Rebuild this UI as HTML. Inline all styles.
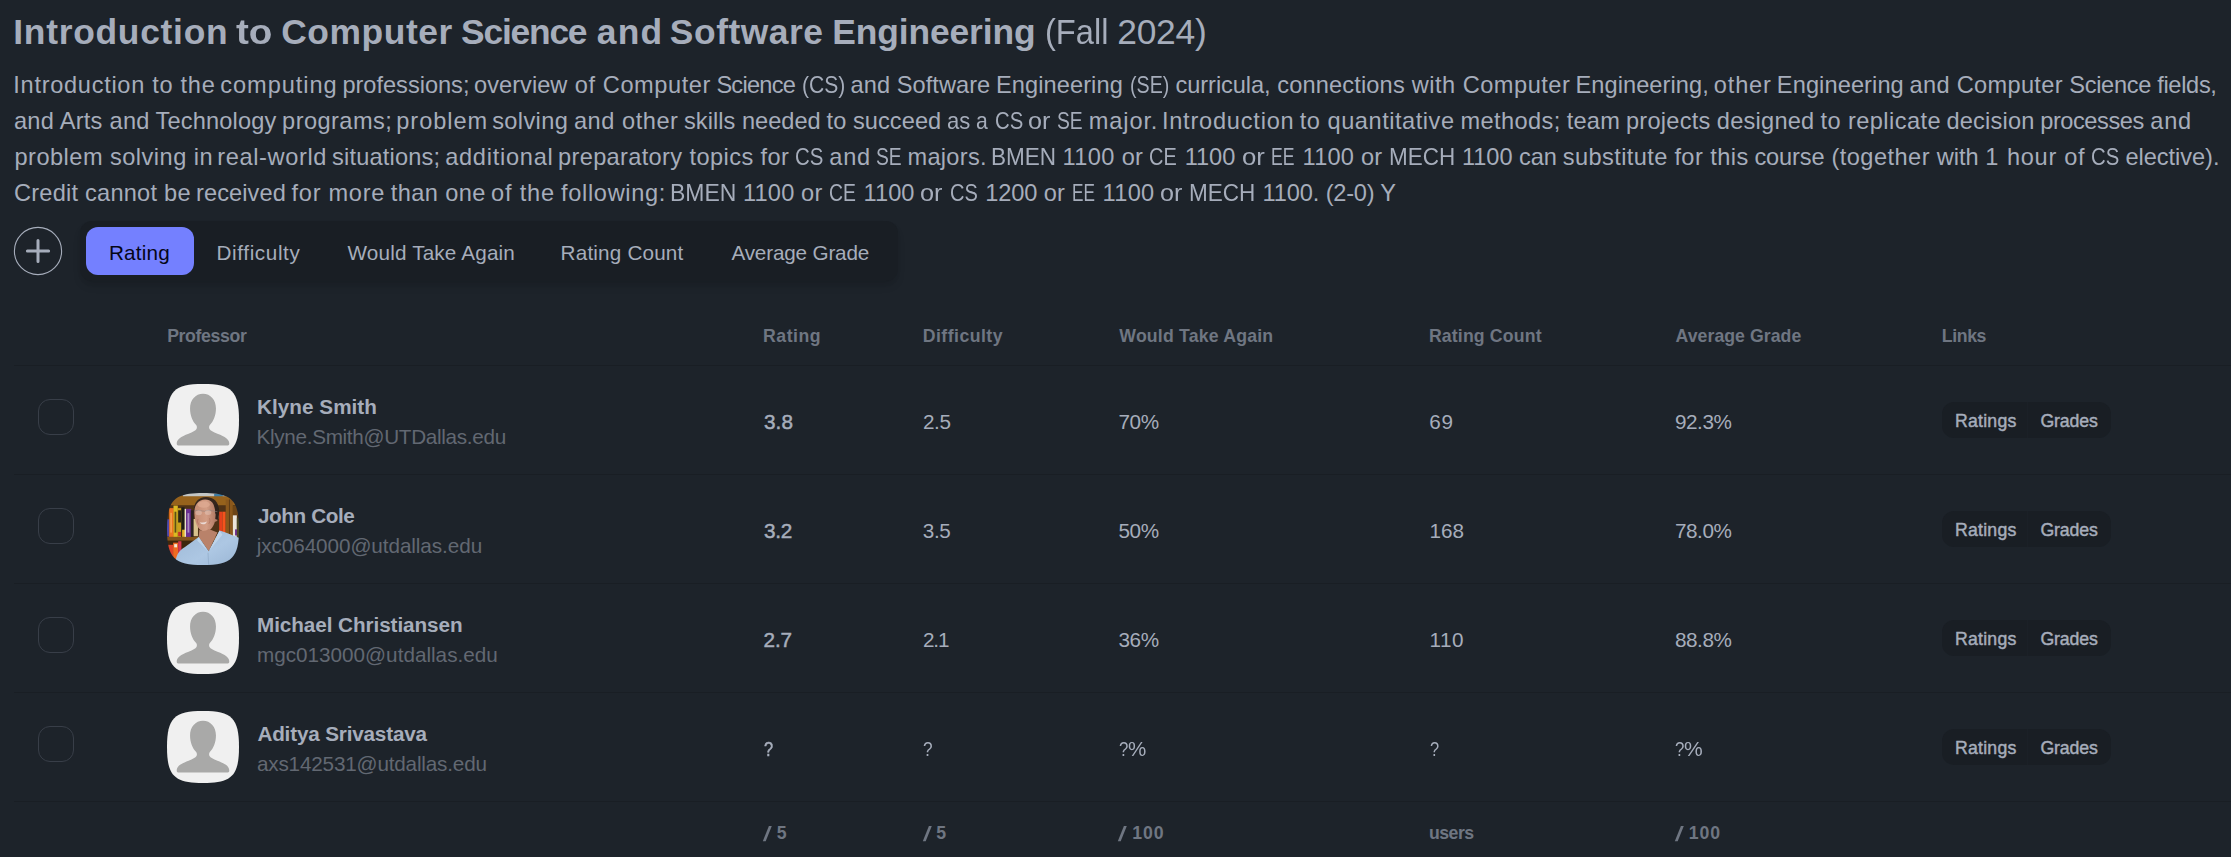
<!DOCTYPE html><html><head><meta charset="utf-8"><title>Course</title><style>

html,body{margin:0;padding:0;}
body{width:2231px;height:857px;overflow:hidden;background:#1d232a;position:relative;font-family:"Liberation Sans",sans-serif;color:#a6adbb;}
.t{position:absolute;white-space:pre;line-height:1;}
.abs{position:absolute;}
.ln{position:absolute;left:14px;width:2217px;height:1px;background:#191e24;}
.cb{position:absolute;left:38px;width:34px;height:34px;border:1px solid #383e48;border-radius:12px;}
.av{position:absolute;left:167px;width:72px;height:72px;}
.bg{position:absolute;left:1942px;width:169px;height:36px;border-radius:12px;background:#191e24;}
.bg i{position:absolute;left:84.5px;top:0;width:1px;height:36px;background:#1b2027;}

</style></head><body>
<svg class="abs" style="left:10px;top:223px" width="56" height="56" viewBox="0 0 56 56"><circle cx="28" cy="28" r="23.6" fill="none" stroke="#a6adbb" stroke-width="1.1"/><path d="M17.4 28H38.6M28 17.4V38.6" stroke="#a6adbb" stroke-width="3" stroke-linecap="round" fill="none"/></svg>
<div class="abs" style="left:80px;top:221px;width:818px;height:60px;border-radius:12px;background:#191e24;box-shadow:0 6px 9px -1.5px rgba(0,0,0,.1),0 3px 6px -3px rgba(0,0,0,.1);"></div>
<div class="abs" style="left:86px;top:227px;width:108px;height:48px;border-radius:12px;background:#7480ff;"></div>
<div class="ln" style="top:365px"></div>
<div class="ln" style="top:474px"></div>
<div class="ln" style="top:583px"></div>
<div class="ln" style="top:692px"></div>
<div class="ln" style="top:801px"></div>
<div class="cb" style="top:399px"></div>
<svg class="av" style="top:384px" viewBox="0 0 200 200"><defs><clipPath id="q0"><path d="M100 0C20 0 0 20 0 100s20 100 100 100 100-20 100-100S180 0 100 0Z"/></clipPath></defs><g clip-path="url(#q0)"><rect width="200" height="200" fill="#f0f0f0"/><path d="M100 27C79 27 64 44 64 68c0 19 7 36 17 46 2 2 3 7 1 11-3 5-10 8-22 13-22 8-33 16-33 27 0 4 2 6 6 6h134c4 0 6-2 6-6 0-11-11-19-33-27-12-5-19-8-22-13-2-4-1-9 1-11 10-10 17-27 17-46 0-24-15-41-36-41z" fill="#a9a9a8"/></g></svg>
<div class="bg" style="top:402px"><i></i></div>
<div class="cb" style="top:508px"></div>
<svg class="av" style="top:493px" viewBox="0 0 200 200"><defs><clipPath id="q1"><path d="M100 0C20 0 0 20 0 100s20 100 100 100 100-20 100-100S180 0 100 0Z"/></clipPath></defs><g clip-path="url(#q1)"><defs><linearGradient id="sk" x1="0" y1="0" x2="1" y2="0"><stop offset="0" stop-color="#c48b72"/><stop offset=".5" stop-color="#d39d85"/><stop offset="1" stop-color="#a8705a"/></linearGradient>
<linearGradient id="sh" x1="0" y1="0" x2="1" y2="1"><stop offset="0" stop-color="#9db8d6"/><stop offset=".55" stop-color="#adc7e3"/><stop offset="1" stop-color="#98b4d3"/></linearGradient>
<filter id="bl" x="-5%" y="-5%" width="110%" height="110%"><feGaussianBlur stdDeviation="1.1"/></filter></defs>
<g filter="url(#bl)">
<rect x="-10" y="-10" width="220" height="220" fill="#94601f"/>
<rect x="44" y="-4" width="132" height="15" fill="#c3c6c5"/>
<rect x="131" y="2" width="24" height="19" fill="#3c7ba3"/>
<rect x="155" y="8" width="18" height="12" fill="#aab2b6"/>
<rect x="-10" y="9" width="220" height="25" fill="#96621f"/>
<rect x="-10" y="34" width="220" height="89" fill="#4f3317"/>
<rect x="-4" y="73" width="12" height="48" fill="#4d47a8"/>
<rect x="6" y="42" width="13" height="80" fill="#ec7320"/>
<rect x="9" y="55" width="5" height="55" fill="#f3a04a"/>
<rect x="18" y="35" width="12" height="87" fill="#dcba20"/>
<rect x="21" y="52" width="5" height="58" fill="#5b4f16"/>
<rect x="30" y="42" width="10" height="80" fill="#c9a11f"/>
<rect x="31" y="48" width="8" height="34" fill="#2b2616"/>
<rect x="31" y="108" width="9" height="12" fill="#c8322a"/>
<rect x="40" y="40" width="9" height="82" fill="#1c1a18"/>
<rect x="42" y="102" width="8" height="20" fill="#e3b027"/>
<rect x="49" y="44" width="4" height="78" fill="#e9e2cb"/>
<rect x="53" y="44" width="14" height="80" fill="#6c2f93"/>
<rect x="57" y="56" width="5" height="54" fill="#a98cc2"/>
<rect x="66" y="48" width="8" height="74" fill="#2a2320"/>
<rect x="74" y="72" width="12" height="48" fill="#d9c18d"/>
<rect x="145" y="52" width="9" height="65" fill="#e5401d"/>
<rect x="154" y="52" width="9" height="65" fill="#f5531f"/>
<rect x="163" y="18" width="20" height="120" fill="#8a591c"/>
<rect x="172" y="18" width="3" height="120" fill="#5f3c13"/>
<rect x="183" y="36" width="20" height="26" fill="#6d4516"/>
<rect x="183" y="62" width="11" height="63" fill="#ebe6da"/>
<rect x="189" y="101" width="6" height="17" fill="#6c2f93"/>
<rect x="194" y="70" width="10" height="56" fill="#4b4a25"/>
<rect x="-10" y="122" width="176" height="10" fill="#83531b"/>
<rect x="-10" y="132" width="220" height="78" fill="#3d2611"/>
<rect x="3" y="144" width="14" height="60" fill="#df432c"/>
<rect x="17" y="138" width="14" height="66" fill="#ef6b24"/>
<rect x="20" y="142" width="8" height="9" fill="#f4ead6"/>
<rect x="31" y="134" width="9" height="66" fill="#d63850"/>
<path d="M74 50c0-24 14-39 34-39 22 0 36 14 36 38l-2 26-10 4-52-8z" fill="#35261e"/>
<path d="M76 58c-1-24 10-40 30-40 18 0 28 12 28 40 0 0 8-4 9 6 1 9-4 17-10 16-4 15-14 27-27 27-16 0-28-18-30-49z" fill="url(#sk)"/>
<ellipse cx="102" cy="32" rx="17" ry="9" fill="#dfab93" opacity=".75"/>
<path d="M131 34c5 10 5 22 3 38l8 3 3-28-5-16z" fill="#2e211a"/>
<path d="M76 50q12-4 22 0 6 2 12-1 10-3 18 1l12 2" stroke="#8c8382" stroke-width="1.5" fill="none"/>
<ellipse cx="88" cy="55" rx="9" ry="7" fill="#e9d2c9" opacity=".4"/><ellipse cx="114" cy="54" rx="9" ry="7" fill="#e9d2c9" opacity=".4"/>
<path d="M91 81q10 3 20-2q-3 8-11 8q-7 0-9-6z" fill="#ead9d4"/>
<path d="M86 72q-4 8 2 16M118 70q4 8-2 16" stroke="#a86a54" stroke-width="1.5" fill="none"/>
<path d="M90 102q12 8 26-2l24 10-24 52-28-40z" fill="#b9826a"/>
<path d="M22 210c0-30 8-50 28-60l38-28 28 40 30-58c24 8 40 14 56 22v84z" fill="url(#sh)"/>
<path d="M88 122l-4 10 30 30zM146 104l8 12-38 46z" fill="#bed4ea"/>
<path d="M114 166l2 40" stroke="#90abc9" stroke-width="2"/>
</g>
</g></svg>
<div class="bg" style="top:511px"><i></i></div>
<div class="cb" style="top:617px"></div>
<svg class="av" style="top:602px" viewBox="0 0 200 200"><defs><clipPath id="q2"><path d="M100 0C20 0 0 20 0 100s20 100 100 100 100-20 100-100S180 0 100 0Z"/></clipPath></defs><g clip-path="url(#q2)"><rect width="200" height="200" fill="#f0f0f0"/><path d="M100 27C79 27 64 44 64 68c0 19 7 36 17 46 2 2 3 7 1 11-3 5-10 8-22 13-22 8-33 16-33 27 0 4 2 6 6 6h134c4 0 6-2 6-6 0-11-11-19-33-27-12-5-19-8-22-13-2-4-1-9 1-11 10-10 17-27 17-46 0-24-15-41-36-41z" fill="#a9a9a8"/></g></svg>
<div class="bg" style="top:620px"><i></i></div>
<div class="cb" style="top:726px"></div>
<svg class="av" style="top:711px" viewBox="0 0 200 200"><defs><clipPath id="q3"><path d="M100 0C20 0 0 20 0 100s20 100 100 100 100-20 100-100S180 0 100 0Z"/></clipPath></defs><g clip-path="url(#q3)"><rect width="200" height="200" fill="#f0f0f0"/><path d="M100 27C79 27 64 44 64 68c0 19 7 36 17 46 2 2 3 7 1 11-3 5-10 8-22 13-22 8-33 16-33 27 0 4 2 6 6 6h134c4 0 6-2 6-6 0-11-11-19-33-27-12-5-19-8-22-13-2-4-1-9 1-11 10-10 17-27 17-46 0-24-15-41-36-41z" fill="#a9a9a8"/></g></svg>
<div class="bg" style="top:729px"><i></i></div>
<span class="t" style="left:13.24px;top:14.70px;font-size:35.40px;font-weight:700;letter-spacing:0.723px;">Introduction</span>
<span class="t" style="left:236.25px;top:14.70px;font-size:35.40px;font-weight:700;transform:scaleX(1.0915);transform-origin:0 0;">to</span>
<span class="t" style="left:281.15px;top:14.70px;font-size:35.40px;font-weight:700;letter-spacing:0.576px;">Computer</span>
<span class="t" style="left:461.05px;top:14.70px;font-size:35.40px;font-weight:700;letter-spacing:-1.218px;">Science</span>
<span class="t" style="left:596.78px;top:14.70px;font-size:35.40px;font-weight:700;letter-spacing:1.184px;">and</span>
<span class="t" style="left:669.85px;top:14.70px;font-size:35.40px;font-weight:700;letter-spacing:0.533px;">Software</span>
<span class="t" style="left:832.34px;top:14.70px;font-size:35.40px;font-weight:700;letter-spacing:-0.127px;">Engineering</span>
<span class="t" style="left:1044.95px;top:14.70px;font-size:35.40px;transform:scaleX(0.9221);transform-origin:0 0;">(Fall</span>
<span class="t" style="left:1117.27px;top:14.70px;font-size:35.40px;letter-spacing:-0.276px;">2024)</span>
<span class="t" style="left:13.30px;top:73.72px;font-size:23.60px;letter-spacing:0.702px;">Introduction to the</span>
<span class="t" style="left:220.29px;top:73.72px;font-size:23.60px;letter-spacing:0.933px;">computing</span>
<span class="t" style="left:342.40px;top:73.72px;font-size:23.60px;letter-spacing:-0.014px;">professions;</span>
<span class="t" style="left:474.11px;top:73.72px;font-size:23.60px;letter-spacing:0.018px;">overview</span>
<span class="t" style="left:574.81px;top:73.72px;font-size:23.60px;letter-spacing:0.579px;">of Computer</span>
<span class="t" style="left:716.38px;top:73.72px;font-size:23.60px;letter-spacing:-0.748px;">Science</span>
<span class="t" style="left:801.70px;top:73.72px;font-size:23.60px;transform:scaleX(0.8939);transform-origin:0 0;">(CS)</span>
<span class="t" style="left:850.58px;top:73.72px;font-size:23.60px;letter-spacing:0.057px;">and Software</span>
<span class="t" style="left:996.03px;top:73.72px;font-size:23.60px;letter-spacing:0.081px;">Engineering</span>
<span class="t" style="left:1129.79px;top:73.72px;font-size:23.60px;transform:scaleX(0.8331);transform-origin:0 0;">(SE)</span>
<span class="t" style="left:1175.49px;top:73.72px;font-size:23.60px;letter-spacing:-0.059px;">curricula,</span>
<span class="t" style="left:1277.19px;top:73.72px;font-size:23.60px;letter-spacing:0.157px;">connections</span>
<span class="t" style="left:1411.64px;top:73.72px;font-size:23.60px;letter-spacing:0.509px;">with Computer</span>
<span class="t" style="left:1575.43px;top:73.72px;font-size:23.60px;letter-spacing:0.077px;">Engineering,</span>
<span class="t" style="left:1713.81px;top:73.72px;font-size:23.60px;letter-spacing:0.843px;">other</span>
<span class="t" style="left:1776.83px;top:73.72px;font-size:23.60px;letter-spacing:0.098px;">Engineering</span>
<span class="t" style="left:1909.58px;top:73.72px;font-size:23.60px;letter-spacing:0.313px;">and Computer</span>
<span class="t" style="left:2069.28px;top:73.72px;font-size:23.60px;letter-spacing:-0.319px;">Science fields,</span>
<span class="t" style="left:13.88px;top:109.72px;font-size:23.60px;letter-spacing:0.283px;">and Arts and</span>
<span class="t" style="left:155.60px;top:109.72px;font-size:23.60px;letter-spacing:0.150px;">Technology</span>
<span class="t" style="left:282.10px;top:109.72px;font-size:23.60px;letter-spacing:0.431px;">programs;</span>
<span class="t" style="left:396.30px;top:109.72px;font-size:23.60px;letter-spacing:0.931px;">problem</span>
<span class="t" style="left:492.13px;top:109.72px;font-size:23.60px;letter-spacing:0.369px;">solving</span>
<span class="t" style="left:573.98px;top:109.72px;font-size:23.60px;letter-spacing:0.531px;">and other</span>
<span class="t" style="left:684.03px;top:109.72px;font-size:23.60px;letter-spacing:0.027px;">skills needed</span>
<span class="t" style="left:826.55px;top:109.72px;font-size:23.60px;letter-spacing:0.061px;">to succeed</span>
<span class="t" style="left:946.85px;top:109.72px;font-size:23.60px;transform:scaleX(0.9349);transform-origin:0 0;">as</span>
<span class="t" style="left:975.69px;top:109.72px;font-size:23.60px;transform:scaleX(0.8971);transform-origin:0 0;">a</span>
<span class="t" style="left:994.55px;top:109.72px;font-size:23.60px;transform:scaleX(0.8617);transform-origin:0 0;">CS</span>
<span class="t" style="left:1028.33px;top:109.72px;font-size:23.60px;transform:scaleX(1.0659);transform-origin:0 0;">or</span>
<span class="t" style="left:1057.22px;top:109.72px;font-size:23.60px;transform:scaleX(0.8161);transform-origin:0 0;">SE</span>
<span class="t" style="left:1088.67px;top:109.72px;font-size:23.60px;letter-spacing:0.903px;">major.</span>
<span class="t" style="left:1161.90px;top:109.72px;font-size:23.60px;letter-spacing:0.775px;">Introduction</span>
<span class="t" style="left:1299.75px;top:109.72px;font-size:23.60px;letter-spacing:0.525px;">to quantitative</span>
<span class="t" style="left:1460.47px;top:109.72px;font-size:23.60px;letter-spacing:0.394px;">methods;</span>
<span class="t" style="left:1566.65px;top:109.72px;font-size:23.60px;letter-spacing:0.247px;">team</span>
<span class="t" style="left:1626.00px;top:109.72px;font-size:23.60px;letter-spacing:0.244px;">projects</span>
<span class="t" style="left:1716.81px;top:109.72px;font-size:23.60px;letter-spacing:0.236px;">designed</span>
<span class="t" style="left:1820.45px;top:109.72px;font-size:23.60px;letter-spacing:0.434px;">to replicate</span>
<span class="t" style="left:1946.51px;top:109.72px;font-size:23.60px;letter-spacing:0.187px;">decision</span>
<span class="t" style="left:2040.20px;top:109.72px;font-size:23.60px;letter-spacing:-0.431px;">processes</span>
<span class="t" style="left:2150.28px;top:109.72px;font-size:23.60px;letter-spacing:0.755px;">and</span>
<span class="t" style="left:14.50px;top:145.72px;font-size:23.60px;letter-spacing:0.465px;">problem solving in</span>
<span class="t" style="left:217.37px;top:145.72px;font-size:23.60px;letter-spacing:0.605px;">real-world</span>
<span class="t" style="left:332.03px;top:145.72px;font-size:23.60px;letter-spacing:0.179px;">situations;</span>
<span class="t" style="left:445.18px;top:145.72px;font-size:23.60px;letter-spacing:0.729px;">additional</span>
<span class="t" style="left:558.10px;top:145.72px;font-size:23.60px;letter-spacing:0.324px;">preparatory</span>
<span class="t" style="left:689.55px;top:145.72px;font-size:23.60px;letter-spacing:0.399px;">topics for</span>
<span class="t" style="left:794.94px;top:145.72px;font-size:23.60px;transform:scaleX(0.8650);transform-origin:0 0;">CS</span>
<span class="t" style="left:829.28px;top:145.72px;font-size:23.60px;letter-spacing:0.743px;">and</span>
<span class="t" style="left:876.02px;top:145.72px;font-size:23.60px;transform:scaleX(0.8161);transform-origin:0 0;">SE</span>
<span class="t" style="left:907.47px;top:145.72px;font-size:23.60px;letter-spacing:0.283px;">majors.</span>
<span class="t" style="left:990.62px;top:145.72px;font-size:23.60px;transform:scaleX(0.9546);transform-origin:0 0;">BMEN</span>
<span class="t" style="left:1062.57px;top:145.72px;font-size:23.60px;letter-spacing:0.356px;">1100 or</span>
<span class="t" style="left:1149.27px;top:145.72px;font-size:23.60px;transform:scaleX(0.8438);transform-origin:0 0;">CE</span>
<span class="t" style="left:1184.67px;top:145.72px;font-size:23.60px;letter-spacing:-0.035px;">1100</span>
<span class="t" style="left:1241.51px;top:145.72px;font-size:23.60px;transform:scaleX(1.0915);transform-origin:0 0;">or</span>
<span class="t" style="left:1271.25px;top:145.72px;font-size:23.60px;transform:scaleX(0.7465);transform-origin:0 0;">EE</span>
<span class="t" style="left:1302.57px;top:145.72px;font-size:23.60px;letter-spacing:0.220px;">1100 or</span>
<span class="t" style="left:1388.73px;top:145.72px;font-size:23.60px;transform:scaleX(0.9520);transform-origin:0 0;">MECH</span>
<span class="t" style="left:1461.97px;top:145.72px;font-size:23.60px;letter-spacing:-0.049px;">1100 can</span>
<span class="t" style="left:1562.83px;top:145.72px;font-size:23.60px;letter-spacing:0.400px;">substitute</span>
<span class="t" style="left:1674.38px;top:145.72px;font-size:23.60px;letter-spacing:0.433px;">for this</span>
<span class="t" style="left:1754.39px;top:145.72px;font-size:23.60px;letter-spacing:-0.101px;">course</span>
<span class="t" style="left:1831.45px;top:145.72px;font-size:23.60px;letter-spacing:0.455px;">(together</span>
<span class="t" style="left:1936.64px;top:145.72px;font-size:23.60px;letter-spacing:0.020px;">with 1</span>
<span class="t" style="left:2007.00px;top:145.72px;font-size:23.60px;letter-spacing:0.686px;">hour of</span>
<span class="t" style="left:2090.85px;top:145.72px;font-size:23.60px;transform:scaleX(0.8617);transform-origin:0 0;">CS</span>
<span class="t" style="left:2125.39px;top:145.72px;font-size:23.60px;letter-spacing:-0.037px;">elective).</span>
<span class="t" style="left:13.98px;top:181.72px;font-size:23.60px;letter-spacing:0.227px;">Credit cannot be</span>
<span class="t" style="left:195.97px;top:181.72px;font-size:23.60px;letter-spacing:0.100px;">received</span>
<span class="t" style="left:291.58px;top:181.72px;font-size:23.60px;letter-spacing:0.699px;">for more</span>
<span class="t" style="left:390.75px;top:181.72px;font-size:23.60px;letter-spacing:0.393px;">than one</span>
<span class="t" style="left:490.91px;top:181.72px;font-size:23.60px;letter-spacing:0.855px;">of the</span>
<span class="t" style="left:560.98px;top:181.72px;font-size:23.60px;letter-spacing:0.675px;">following:</span>
<span class="t" style="left:669.78px;top:181.72px;font-size:23.60px;transform:scaleX(0.9732);transform-origin:0 0;">BMEN</span>
<span class="t" style="left:743.07px;top:181.72px;font-size:23.60px;letter-spacing:0.154px;">1100 or</span>
<span class="t" style="left:828.90px;top:181.72px;font-size:23.60px;transform:scaleX(0.8209);transform-origin:0 0;">CE</span>
<span class="t" style="left:863.57px;top:181.72px;font-size:23.60px;letter-spacing:0.050px;">1100</span>
<span class="t" style="left:920.33px;top:181.72px;font-size:23.60px;transform:scaleX(1.0710);transform-origin:0 0;">or</span>
<span class="t" style="left:949.86px;top:181.72px;font-size:23.60px;transform:scaleX(0.8486);transform-origin:0 0;">CS</span>
<span class="t" style="left:985.27px;top:181.72px;font-size:23.60px;letter-spacing:-0.089px;">1200 or</span>
<span class="t" style="left:1071.89px;top:181.72px;font-size:23.60px;transform:scaleX(0.7290);transform-origin:0 0;">EE</span>
<span class="t" style="left:1102.57px;top:181.72px;font-size:23.60px;letter-spacing:0.298px;">1100</span>
<span class="t" style="left:1160.43px;top:181.72px;font-size:23.60px;transform:scaleX(1.0659);transform-origin:0 0;">or</span>
<span class="t" style="left:1189.22px;top:181.72px;font-size:23.60px;transform:scaleX(0.9551);transform-origin:0 0;">MECH</span>
<span class="t" style="left:1262.47px;top:181.72px;font-size:23.60px;letter-spacing:-0.109px;">1100.</span>
<span class="t" style="left:1325.75px;top:181.72px;font-size:23.60px;letter-spacing:-0.259px;">(2-0) Y</span>
<span class="t" style="left:108.88px;top:242.71px;font-size:20.70px;color:#050617;letter-spacing:0.231px;">Rating</span>
<span class="t" style="left:216.58px;top:242.71px;font-size:20.70px;letter-spacing:0.604px;">Difficulty</span>
<span class="t" style="left:347.55px;top:242.71px;font-size:20.70px;letter-spacing:0.161px;">Would Take Again</span>
<span class="t" style="left:560.58px;top:242.71px;font-size:20.70px;letter-spacing:0.179px;">Rating Count</span>
<span class="t" style="left:731.45px;top:242.71px;font-size:20.70px;letter-spacing:-0.175px;">Average Grade</span>
<span class="t" style="left:167.18px;top:328.10px;font-size:17.70px;font-weight:700;color:#6f7682;letter-spacing:-0.372px;">Professor</span>
<span class="t" style="left:763.08px;top:328.10px;font-size:17.70px;font-weight:700;color:#6f7682;letter-spacing:0.514px;">Rating</span>
<span class="t" style="left:922.78px;top:328.10px;font-size:17.70px;font-weight:700;color:#6f7682;letter-spacing:0.455px;">Difficulty</span>
<span class="t" style="left:1119.32px;top:328.10px;font-size:17.70px;font-weight:700;color:#6f7682;letter-spacing:0.189px;">Would Take Again</span>
<span class="t" style="left:1428.88px;top:328.10px;font-size:17.70px;font-weight:700;color:#6f7682;letter-spacing:0.150px;">Rating Count</span>
<span class="t" style="left:1675.53px;top:328.10px;font-size:17.70px;font-weight:700;color:#6f7682;letter-spacing:0.049px;">Average Grade</span>
<span class="t" style="left:1941.78px;top:328.10px;font-size:17.70px;font-weight:700;color:#6f7682;letter-spacing:-0.376px;">Links</span>
<span class="t" style="left:257.02px;top:396.50px;font-size:20.70px;font-weight:700;letter-spacing:0.036px;">Klyne Smith</span>
<span class="t" style="left:256.48px;top:426.61px;font-size:20.70px;color:#626872;letter-spacing:-0.303px;">Klyne.Smith@UTDallas.edu</span>
<span class="t" style="left:764.01px;top:411.81px;font-size:20.70px;letter-spacing:0.061px;-webkit-text-stroke:0.50px #a6adbb;">3.8</span>
<span class="t" style="left:922.88px;top:411.81px;font-size:20.70px;letter-spacing:-0.310px;">2.5</span>
<span class="t" style="left:1118.47px;top:411.81px;font-size:20.70px;letter-spacing:-0.388px;">70%</span>
<span class="t" style="left:1429.37px;top:411.81px;font-size:20.70px;letter-spacing:0.753px;">69</span>
<span class="t" style="left:1675.01px;top:411.81px;font-size:20.70px;letter-spacing:-0.457px;">92.3%</span>
<span class="t" style="left:1954.88px;top:412.72px;font-size:17.70px;letter-spacing:0.248px;-webkit-text-stroke:0.45px #a6adbb;">Ratings</span>
<span class="t" style="left:2040.51px;top:412.72px;font-size:17.70px;letter-spacing:-0.147px;-webkit-text-stroke:0.45px #a6adbb;">Grades</span>
<span class="t" style="left:257.99px;top:505.50px;font-size:20.70px;font-weight:700;letter-spacing:-0.394px;">John Cole</span>
<span class="t" style="left:256.73px;top:535.61px;font-size:20.70px;color:#626872;letter-spacing:-0.070px;">jxc064000@utdallas.edu</span>
<span class="t" style="left:764.01px;top:520.81px;font-size:20.70px;letter-spacing:-0.286px;-webkit-text-stroke:0.50px #a6adbb;">3.2</span>
<span class="t" style="left:922.84px;top:520.81px;font-size:20.70px;letter-spacing:-0.435px;">3.5</span>
<span class="t" style="left:1118.45px;top:520.81px;font-size:20.70px;letter-spacing:-0.400px;">50%</span>
<span class="t" style="left:1429.47px;top:520.81px;font-size:20.70px;letter-spacing:-0.049px;">168</span>
<span class="t" style="left:1674.97px;top:520.81px;font-size:20.70px;letter-spacing:-0.445px;">78.0%</span>
<span class="t" style="left:1954.88px;top:521.72px;font-size:17.70px;letter-spacing:0.248px;-webkit-text-stroke:0.45px #a6adbb;">Ratings</span>
<span class="t" style="left:2040.51px;top:521.72px;font-size:17.70px;letter-spacing:-0.147px;-webkit-text-stroke:0.45px #a6adbb;">Grades</span>
<span class="t" style="left:257.02px;top:614.50px;font-size:20.70px;font-weight:700;letter-spacing:-0.071px;">Michael Christiansen</span>
<span class="t" style="left:256.91px;top:644.61px;font-size:20.70px;color:#626872;letter-spacing:0.009px;">mgc013000@utdallas.edu</span>
<span class="t" style="left:763.45px;top:629.81px;font-size:20.70px;letter-spacing:-0.035px;-webkit-text-stroke:0.50px #a6adbb;">2.7</span>
<span class="t" style="left:922.88px;top:629.81px;font-size:20.70px;letter-spacing:-1.116px;">2.1</span>
<span class="t" style="left:1118.44px;top:629.81px;font-size:20.70px;letter-spacing:-0.388px;">36%</span>
<span class="t" style="left:1429.47px;top:629.81px;font-size:20.70px;letter-spacing:0.565px;">110</span>
<span class="t" style="left:1675.02px;top:629.81px;font-size:20.70px;letter-spacing:-0.452px;">88.8%</span>
<span class="t" style="left:1954.88px;top:630.72px;font-size:17.70px;letter-spacing:0.248px;-webkit-text-stroke:0.45px #a6adbb;">Ratings</span>
<span class="t" style="left:2040.51px;top:630.72px;font-size:17.70px;letter-spacing:-0.147px;-webkit-text-stroke:0.45px #a6adbb;">Grades</span>
<span class="t" style="left:257.38px;top:723.50px;font-size:20.70px;font-weight:700;letter-spacing:-0.174px;">Aditya Srivastava</span>
<span class="t" style="left:256.95px;top:753.61px;font-size:20.70px;color:#626872;letter-spacing:-0.177px;">axs142531@utdallas.edu</span>
<span class="t" style="left:764.06px;top:738.81px;font-size:20.70px;transform:scaleX(0.7932);transform-origin:0 0;-webkit-text-stroke:0.50px #a6adbb;">?</span>
<span class="t" style="left:923.10px;top:738.81px;font-size:20.70px;transform:scaleX(0.8339);transform-origin:0 0;">?</span>
<span class="t" style="left:1118.92px;top:738.81px;font-size:20.70px;transform:scaleX(0.8133);transform-origin:0 0;">?</span>
<span class="t" style="left:1127.87px;top:738.81px;font-size:20.70px;transform:scaleX(0.9934);transform-origin:0 0;">%</span>
<span class="t" style="left:1430.14px;top:738.81px;font-size:20.70px;transform:scaleX(0.7927);transform-origin:0 0;">?</span>
<span class="t" style="left:1675.32px;top:738.81px;font-size:20.70px;transform:scaleX(0.8133);transform-origin:0 0;">?</span>
<span class="t" style="left:1684.24px;top:738.81px;font-size:20.70px;transform:scaleX(1.0174);transform-origin:0 0;">%</span>
<span class="t" style="left:1954.88px;top:739.72px;font-size:17.70px;letter-spacing:0.248px;-webkit-text-stroke:0.45px #a6adbb;">Ratings</span>
<span class="t" style="left:2040.51px;top:739.72px;font-size:17.70px;letter-spacing:-0.147px;-webkit-text-stroke:0.45px #a6adbb;">Grades</span>
<span class="t" style="left:776.66px;top:825.20px;font-size:17.70px;font-weight:700;color:#6f7682;">5</span>
<span class="t" style="left:936.36px;top:825.20px;font-size:17.70px;font-weight:700;color:#6f7682;">5</span>
<span class="t" style="left:1132.14px;top:825.20px;font-size:17.70px;font-weight:700;color:#6f7682;letter-spacing:0.975px;">100</span>
<span class="t" style="left:1428.94px;top:825.20px;font-size:17.70px;font-weight:700;color:#6f7682;letter-spacing:-0.512px;">users</span>
<span class="t" style="left:1688.74px;top:825.20px;font-size:17.70px;font-weight:700;color:#6f7682;letter-spacing:0.975px;">100</span>
<svg class="abs" style="left:762.1px;top:822px" width="16" height="24" viewBox="0 0 16 24"><path d="M0.8 19.2H3.7L9.8 3.9H6.9Z" fill="#6f7682"/></svg>
<svg class="abs" style="left:921.8px;top:822px" width="16" height="24" viewBox="0 0 16 24"><path d="M0.8 19.2H3.7L9.8 3.9H6.9Z" fill="#6f7682"/></svg>
<svg class="abs" style="left:1117.3px;top:822px" width="16" height="24" viewBox="0 0 16 24"><path d="M0.8 19.2H3.7L9.8 3.9H6.9Z" fill="#6f7682"/></svg>
<svg class="abs" style="left:1673.9px;top:822px" width="16" height="24" viewBox="0 0 16 24"><path d="M0.8 19.2H3.7L9.8 3.9H6.9Z" fill="#6f7682"/></svg>
</body></html>
